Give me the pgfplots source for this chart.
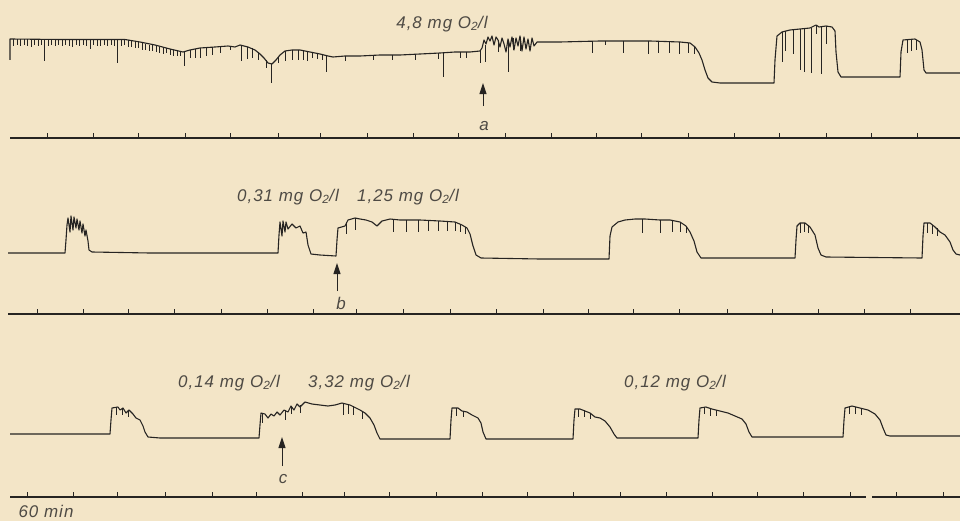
\documentclass[border=0pt]{standalone}
\usepackage{pgfplots}
\pgfplotsset{compat=1.18}
\usetikzlibrary{arrows.meta}
\usepackage{fontspec}
\setmainfont{Liberation Sans}
\newfontfamily\hand{Liberation Sans}[LetterSpace=6]
\definecolor{paper}{RGB}{243,229,199}
\definecolor{ink}{RGB}{38,36,34}
\definecolor{txt}{RGB}{78,74,68}
\pgfplotsset{
  tr/.style={ink, solid, line width=1.1bp, mark=none, line join=round},
  sp/.style={draw=none, mark=none, error bars/.cd, y dir=plus, y explicit, error mark=none,
    error bar style={draw=ink, solid, line width=0.8bp}},
  tk/.style={draw=none, mark=none, error bars/.cd, y dir=minus, y explicit, error mark=none,
    error bar style={draw=ink, solid, line width=1bp}},
}
\begin{document}
\begin{tikzpicture}
\begin{axis}[
  scale only axis, width=960bp, height=521bp,
  xmin=0, xmax=960, ymin=0, ymax=521, y dir=reverse,
  axis line style={draw=none}, xtick=\empty, ytick=\empty,
  axis background/.style={fill=paper},
]
% ---------------- time axes ----------------
\addplot[tr] coordinates {(10,138)(960,138)};
\addplot[tr] coordinates {(8,314)(960,314)};
\addplot[tr] coordinates {(10,497)(866,497)};
\addplot[tr] coordinates {(872,497)(960,497)};
\addplot[tk] coordinates {
 (47,138)+-(0,5) (93,138)+-(0,5) (138,138)+-(0,5) (185,138)+-(0,5) (230,138)+-(0,5)
 (278,138)+-(0,5) (320,138)+-(0,5) (367,138)+-(0,5) (413,138)+-(0,5) (458,138)+-(0,5)
 (505,138)+-(0,5) (551,138)+-(0,5) (596,138)+-(0,5) (641,138)+-(0,5) (688,138)+-(0,5)
 (734,138)+-(0,5) (779,138)+-(0,5) (826,138)+-(0,5) (871,138)+-(0,5) (917,138)+-(0,5)
 (37,314)+-(0,5) (83,314)+-(0,5) (128,314)+-(0,5) (174,314)+-(0,5) (221,314)+-(0,5)
 (267,314)+-(0,5) (313,314)+-(0,5) (356,314)+-(0,5) (403,314)+-(0,5) (450,314)+-(0,5)
 (496,314)+-(0,5) (543,314)+-(0,5) (588,314)+-(0,5) (633,314)+-(0,5) (679,314)+-(0,5)
 (727,314)+-(0,5) (772,314)+-(0,5) (818,314)+-(0,5) (864,314)+-(0,5) (910,314)+-(0,5)
 (27,497)+-(0,5) (73,497)+-(0,5) (117,497)+-(0,5) (165,497)+-(0,5) (212,497)+-(0,5)
 (256,497)+-(0,5) (302,497)+-(0,5) (344,497)+-(0,5) (389,497)+-(0,5) (436,497)+-(0,5)
 (482,497)+-(0,5) (527,497)+-(0,5) (573,497)+-(0,5) (620,497)+-(0,5) (666,497)+-(0,5)
 (712,497)+-(0,5) (757,497)+-(0,5) (803,497)+-(0,5) (850,497)+-(0,5) (896,497)+-(0,5)
 (943,497)+-(0,5)
};
% ---------------- trace 1 ----------------
\addplot[tr] coordinates {
 (10,60)(10,39)(60,39.5)(125,39.5)(140,42)(155,45)(170,49)(183,52)(190,50)(200,48)(215,47)
 (228,46)(235,47)(240,45)(248,47)(255,50)(260,54)(264,58)(268,63)(272,64)(276,60)(280,55)
 (285,51)(292,50)(300,50)(310,52)(320,54)(328,56)(333,57)(345,56)(360,56)(380,55)(400,55)
 (420,54)(440,53)(455,52)(470,52)(480,51)(482,48)(484,40)(486,44)(488,37)(490,41)(492,36)
 (494,45)(496,37)(498,40)(500,47)(502,38)(504,44)(506,52)(508,39)(510,47)(512,37)(514,50)
 (516,38)(518,46)(520,36)(522,51)(524,37)(526,49)(528,39)(530,51)(532,38)(534,46)(537,42)
 (560,42)(600,41)(650,41)(680,42)(690,43)(695,47)(699,53)(702,60)(705,70)(708,78)(712,82)
 (720,83)(774,83)(775,60)(777,36)(782,32)(790,30)(800,29)(810,28)(816,25)(819,27)(826,26)
 (832,27)(835,31)(836,52)(838,72)(841,77)(900,77)(901,52)(903,40)(915,39)(920,42)(922,50)
 (924,70)(926,73)(960,73)
};
\addplot[sp] coordinates {
 (13,39.5)+-(0,7) (17,39.5)+-(0,6) (20,39.5)+-(0,7) (24,39.5)+-(0,6) (27,39.5)+-(0,7)
 (31,39.5)+-(0,8) (34,39.5)+-(0,6) (38,39.5)+-(0,7) (41,39.5)+-(0,6) (44,39.5)+-(0,22)
 (48,39.5)+-(0,7) (51,39.5)+-(0,6) (55,39.5)+-(0,7) (58,39.5)+-(0,6) (62,39.5)+-(0,7)
 (65,39.5)+-(0,6) (69,39.5)+-(0,7) (72,39.5)+-(0,8) (76,39.5)+-(0,6) (79,39.5)+-(0,7)
 (83,39.5)+-(0,6) (86,39.5)+-(0,7) (90,39.5)+-(0,10) (93,39.5)+-(0,6) (97,39.5)+-(0,7)
 (100,39.5)+-(0,7) (104,39.5)+-(0,6) (107,39.5)+-(0,7) (111,39.5)+-(0,6) (114,39.5)+-(0,7)
 (117,39.5)+-(0,24) (121,39.5)+-(0,7) (124,39.5)+-(0,6) (128,40)+-(0,7) (131,41)+-(0,6)
 (135,41.5)+-(0,7) (138,42)+-(0,6) (142,43)+-(0,7) (145,44)+-(0,6) (149,45)+-(0,6)
 (152,45.5)+-(0,6) (156,46)+-(0,6) (159,47)+-(0,6) (163,48)+-(0,6) (166,48.5)+-(0,5)
 (170,49)+-(0,6) (173,50)+-(0,6) (177,51)+-(0,5) (180,51.5)+-(0,5) (184,52)+-(0,14)
 (190,50)+-(0,8) (195,49)+-(0,9) (200,48)+-(0,10) (206,48)+-(0,8) (212,47)+-(0,8)
 (220,47)+-(0,6) (230,46)+-(0,4) (241,45)+-(0,16) (247,47)+-(0,12) (252,48)+-(0,10)
 (258,52)+-(0,8) (266,60)+-(0,8) (271,64)+-(0,19) (278,57)+-(0,6) (285,51)+-(0,10)
 (292,50)+-(0,10) (298,50)+-(0,10) (303,51)+-(0,9) (307,52)+-(0,9) (312,52)+-(0,6)
 (317,53)+-(0,6) (322,54)+-(0,6) (326,55)+-(0,17) (345,56)+-(0,5) (373,55)+-(0,5)
 (392,55)+-(0,5) (415,54)+-(0,6) (438,53)+-(0,6) (443,53)+-(0,24) (460,52)+-(0,6)
 (466,52)+-(0,6) (480,51)+-(0,12) (485,45)+-(0,17) (498,40)+-(0,12) (508,42)+-(0,30)
 (513,38)+-(0,12) (520,37)+-(0,14) (592,41)+-(0,12) (605,41)+-(0,4) (623,41)+-(0,12)
 (648,41)+-(0,13) (658,41)+-(0,12) (669,41)+-(0,12) (679,42)+-(0,12) (688,43)+-(0,10)
 (694,46)+-(0,8) (782,32)+-(0,30) (785,31)+-(0,20) (793,30)+-(0,24) (800,29)+-(0,41)
 (804,29)+-(0,43) (811,28)+-(0,45) (816,26)+-(0,8) (821,27)+-(0,47) (826,26)+-(0,18)
 (907,39)+-(0,14) (911,39)+-(0,12) (916,40)+-(0,10)
};
% ---------------- trace 2 ----------------
\addplot[tr] coordinates {
 (8,253)(65,253)(66,240)(67,225)(68,218)(70,232)(71,216)(73,230)(74,217)(76,228)(77,219)
 (79,230)(80,221)(82,233)(83,224)(85,236)(86,230)(88,241)(89,250)(92,252)(150,253)(278,253)
 (279,235)(280,222)(282,236)(283,221)(285,232)(286,222)(288,229)(292,224)(296,228)(300,226)
 (303,233)(306,232)(308,245)(311,254)(320,255)(336,256)(337,240)(338,228)(345,226)(348,220)
 (355,218)(360,219)(366,220)(372,222)(377,226)(382,221)(390,219)(400,220)(420,220)(440,221)
 (455,222)(462,225)(467,228)(470,234)(473,246)(476,255)(481,258)(540,259)(609,259)(610,236)
 (612,227)(618,222)(625,220)(635,219)(645,219)(660,220)(670,220)(680,222)(686,226)(690,232)
 (694,241)(697,252)(701,258)(795,258)(796,240)(797,226)(800,223)(805,223)(810,227)(815,235)
 (818,248)(821,255)(826,257)(922,258)(923,236)(924,223)(930,223)(935,227)(940,232)(945,235)
 (950,242)(953,250)(956,254)(960,255)
};
\addplot[sp] coordinates {
 (346,222)+-(0,12) (355,218)+-(0,12) (393,219)+-(0,13) (406,220)+-(0,12) (418,220)+-(0,12)
 (428,220)+-(0,11) (438,221)+-(0,10) (447,221)+-(0,10) (455,222)+-(0,9) (460,224)+-(0,8)
 (465,227)+-(0,7) (642,219)+-(0,14) (660,220)+-(0,13) (672,220)+-(0,12) (680,222)+-(0,10)
 (686,226)+-(0,7) (800,223)+-(0,10) (804,223)+-(0,9) (808,225)+-(0,8) (927,223)+-(0,10)
 (932,225)+-(0,9) (937,228)+-(0,8)
};
% ---------------- trace 3 ----------------
\addplot[tr] coordinates {
 (10,434)(110,434)(111,420)(112,408)(118,407)(120,410)(123,408)(126,413)(129,410)(133,414)
 (136,418)(140,420)(143,426)(145,432)(148,437)(160,438)(259,438)(260,425)(261,413)(265,414)
 (268,418)(271,414)(274,416)(277,412)(280,415)(284,410)(288,412)(291,406)(294,410)(297,404)
 (300,407)(305,402)(312,404)(320,405)(328,406)(335,405)(342,403)(350,405)(356,408)(360,410)
 (365,413)(370,418)(374,425)(377,433)(380,439)(450,439)(451,420)(452,408)(458,408)(462,411)
 (467,412)(472,415)(478,418)(481,423)(483,432)(486,439)(573,439)(574,420)(575,409)(580,409)
 (585,411)(590,413)(595,417)(600,418)(605,421)(610,427)(614,434)(617,438)(698,438)(699,420)
 (700,408)(706,407)(712,409)(720,411)(728,413)(735,416)(742,419)(746,424)(749,432)(752,437)
 (843,437)(844,420)(845,408)(852,406)(860,408)(868,410)(875,414)(880,420)(883,428)(886,435)
 (890,436)(960,436)
};
\addplot[sp] coordinates {
 (116,407)+-(0,8) (122,408)+-(0,7) (128,411)+-(0,6) (262,413)+-(0,10) (285,410)+-(0,10)
 (291,406)+-(0,8) (300,405)+-(0,8) (343,403)+-(0,12) (348,404)+-(0,10) (353,406)+-(0,9)
 (362,411)+-(0,8) (456,408)+-(0,8) (463,411)+-(0,6) (578,409)+-(0,8) (584,410)+-(0,7)
 (590,413)+-(0,6) (704,407)+-(0,7) (710,408)+-(0,8) (716,410)+-(0,6) (849,406)+-(0,8)
 (855,407)+-(0,7) (861,408)+-(0,7)
};
% ---------------- arrows ----------------
\addplot[tr, line width=1bp, -{Triangle[width=7bp,length=11bp]}] coordinates {(483,106)(483,83)};
\addplot[tr, line width=1bp, -{Triangle[width=7bp,length=11bp]}] coordinates {(337,291)(337,263)};
\addplot[tr, line width=1bp, -{Triangle[width=7bp,length=11bp]}] coordinates {(282,466)(282,437)};
% ---------------- labels ----------------
\begin{scope}[every node/.style={text=txt, font=\hand\itshape\fontsize{17}{17}\selectfont, inner sep=0pt}]
\node at (axis cs:442,24) {4,8 mg O\textsubscript{2}/l};
\node at (axis cs:288,197) {0,31 mg O\textsubscript{2}/l};
\node at (axis cs:408,197) {1,25 mg O\textsubscript{2}/l};
\node at (axis cs:229,383) {0,14 mg O\textsubscript{2}/l};
\node at (axis cs:359,383) {3,32 mg O\textsubscript{2}/l};
\node at (axis cs:675,383) {0,12 mg O\textsubscript{2}/l};
\node at (axis cs:484,126) {a};
\node at (axis cs:341,303) {b};
\node at (axis cs:283,479) {c};
\node at (axis cs:46,511) {60 min};
\end{scope}
\end{axis}
\end{tikzpicture}
\end{document}
